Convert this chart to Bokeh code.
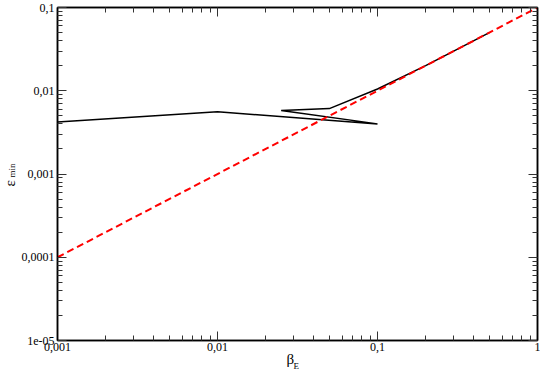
from bokeh.plotting import figure
from bokeh.models import LogAxis, FixedTicker, CustomJSTickFormatter, Range1d, Title
from bokeh.embed import file_html
from bokeh.resources import INLINE

# data
beta_black = [0.001, 0.01, 0.1, 0.025, 0.05, 0.1, 0.2, 0.5]
eps_black = [0.0042, 0.0056, 0.0040, 0.0058, 0.0061, 0.0105, 0.020, 0.050]
beta_red = [0.001, 1.0]
eps_red = [0.0001, 0.1]

x_ticks = [0.001, 0.01, 0.1, 1.0]
x_tick_labels = ["0,001", "0,01", "0,1", "1"]
y_ticks = [1e-05, 0.0001, 0.001, 0.01, 0.1]
y_tick_labels = ["1e-05", "0,0001", "0,001", "0,01", "0,1"]

def minors(lo, hi):
    out = []
    for d in range(lo, hi):
        for k in range(2, 10):
            out.append(k * 10.0 ** d)
    return out

def fmt(ticks, labels):
    return CustomJSTickFormatter(args=dict(t=ticks, l=labels), code="""
        for (let i = 0; i < t.length; i++) {
            if (Math.abs(Math.log10(t[i]) - Math.log10(tick)) < 1e-6) return l[i];
        }
        return "";
    """)

blank = CustomJSTickFormatter(code="return '';")

FONT = "Liberation Serif"
W, H = 540, 378

p = figure(width=W, height=H, x_axis_type="log", y_axis_type="log",
           x_range=Range1d(0.001, 1.0), y_range=Range1d(1e-05, 0.1),
           output_backend="svg", toolbar_location=None,
           min_border_left=57, min_border_right=3, min_border_top=7, min_border_bottom=38)
p.xgrid.visible = False
p.ygrid.visible = False
p.outline_line_color = "black"
p.outline_line_width = 1.5
p.background_fill_color = "white"
p.border_fill_color = "white"

xt = FixedTicker(ticks=x_ticks, minor_ticks=minors(-3, 0))
yt = FixedTicker(ticks=y_ticks, minor_ticks=minors(-5, -1))

def style(ax, ticker, formatter):
    ax.ticker = ticker
    ax.formatter = formatter
    ax.major_tick_in = 9
    ax.major_tick_out = 0
    ax.minor_tick_in = 5
    ax.minor_tick_out = 0
    ax.axis_line_color = "black"
    ax.axis_line_width = 1.5
    ax.major_tick_line_color = "#333333"
    ax.minor_tick_line_color = "#333333"
    ax.major_label_text_font = FONT
    ax.major_label_text_font_size = "12px"
    ax.major_label_text_color = "black"
    ax.major_label_standoff = 3
    ax.axis_label = None

style(p.xaxis[0], xt, fmt(x_ticks, x_tick_labels))
style(p.yaxis[0], yt, fmt(y_ticks, y_tick_labels))
p.xaxis[0].major_label_standoff = 2

top = LogAxis()
style(top, xt, blank)
top.major_label_standoff = 0
p.add_layout(top, "above")
right = LogAxis()
style(right, yt, blank)
right.major_label_standoff = 0
p.add_layout(right, "right")

p.line(beta_black, eps_black, line_color="black", line_width=1.5)
p.line(beta_red, eps_red, line_color="#ff0000", line_width=2, line_dash="7 4")

# axis titles (outside the frame), positioned with Title offsets
def title(text, size, side, offset, standoff, valign):
    t = Title(text=text, align="left", offset=offset, standoff=standoff,
              vertical_align=valign, text_font=FONT, text_font_size=size,
              text_font_style="normal", text_color="black")
    p.add_layout(t, side)

title("β", "15px", "below", 229, -6, "top")
title("E", "9px", "below", 236, -10, "top")
title("min", "9px", "left", 163, 4, "bottom")
title("ε", "15px", "left", 154, -30, "bottom")

open("out.html", "w").write(file_html(p, INLINE))
